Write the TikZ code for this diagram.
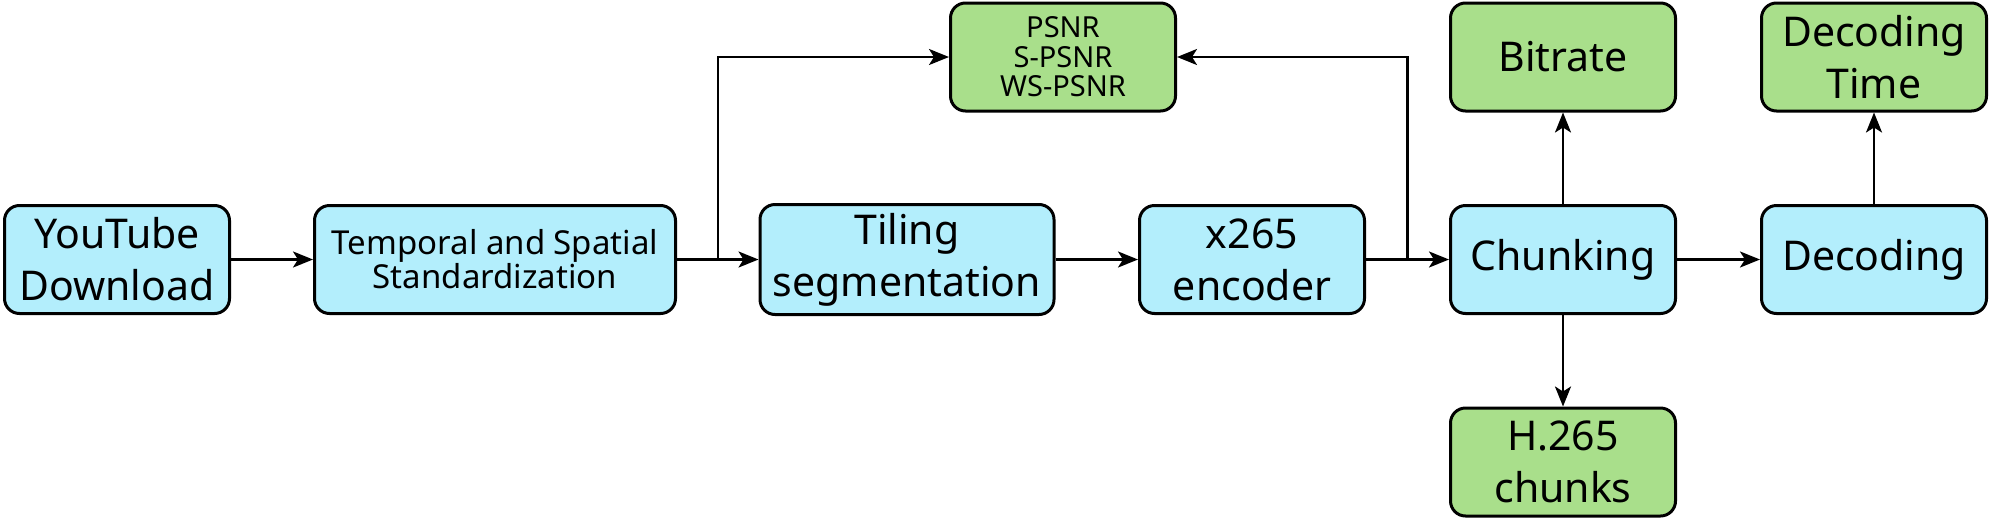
\documentclass[tikz,border=0pt]{standalone}
\usepackage{fontspec}
\setmainfont{Noto Sans}
\usetikzlibrary{arrows.meta,calc}

\definecolor{stageblue}{HTML}{B3EEFC}
\definecolor{resultgreen}{HTML}{A9DF8B}

\tikzset{
  stage/.style={draw, line width=3pt, rounded corners=15pt, fill=stageblue,
    minimum width=225pt, minimum height=108pt, inner sep=0pt, align=center,
    font=\fontsize{41}{52}\selectfont},
  result/.style={stage, fill=resultgreen},
  flow/.style={line width=2.5pt, -{Stealth[length=20pt,width=16pt,inset=5pt]}}
}

\begin{document}
\begin{tikzpicture}[x=1pt,y=-1pt]

  \useasboundingbox (0,0) rectangle (1992,520);

  % Processing stages
  \node[stage] (yt) at (117,259.5) {YouTube\\Download};
  \node[stage, minimum width=361pt, font=\fontsize{33}{32}\selectfont] (std) at (495,259.5) {Temporal and Spatial\\Standardization};
  \node[stage, minimum width=294pt, minimum height=110pt] (tile) at (907,259.5) {Tiling\\segmentation};
  \node[stage] (enc) at (1252,259.5) {x265\\encoder};
  \node[stage] (chunk) at (1563,259.5) {Chunking};
  \node[stage] (dec) at (1874,259.5) {Decoding};

  % Outputs
  \node[result, font=\fontsize{29}{29.5}\selectfont] (psnr) at (1063,57) {PSNR\\S-PSNR\\WS-PSNR};
  \node[result] (rate) at (1563,57) {Bitrate};
  \node[result] (dtime) at (1874,57) {Decoding\\Time};
  \node[result] (h265) at (1563,462) {H.265\\chunks};

  % Branch points
  \coordinate (split1) at ($(std.east)!0.5!(tile.west)$);
  \coordinate (split2) at ($(enc.east)!0.5!(chunk.west)$);

  % Main flow
  \draw[flow] (yt) -- (std);
  \draw[flow] (std) -- (tile);
  \draw[flow] (tile) -- (enc);
  \draw[flow] (enc) -- (chunk);
  \draw[flow] (chunk) -- (dec);

  % Quality metrics
  \draw[flow] (split1) |- (psnr.west);
  \draw[flow] (split2) |- (psnr.east);

  % Side outputs
  \draw[flow] (chunk) -- (rate);
  \draw[flow] (chunk) -- (h265);
  \draw[flow] (dec) -- (dtime);

\end{tikzpicture}
\end{document}
